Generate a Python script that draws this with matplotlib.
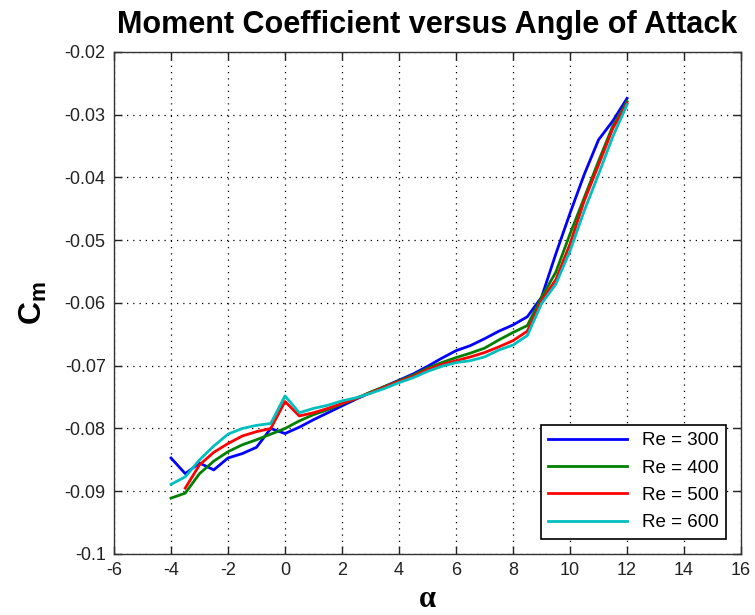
import numpy as np
import matplotlib
matplotlib.use('Agg')
from matplotlib import pyplot as plt

plt.rcParams['font.family'] = ['Liberation Sans', 'DejaVu Sans']
plt.rcParams['mathtext.fontset'] = 'custom'
plt.rcParams['mathtext.rm'] = 'Liberation Sans'
plt.rcParams['mathtext.bf'] = 'Liberation Sans:bold'
plt.rcParams['axes.unicode_minus'] = False

# angle of attack, deg
alpha = np.arange(-4, 12.5, 0.5)
alpha_500 = alpha[1:]

cm_300 = [-0.0847, -0.0872, -0.0855, -0.0866, -0.0847, -0.0840, -0.0830, -0.0800,
          -0.0808, -0.0798, -0.0786, -0.0775, -0.0764, -0.0753, -0.0743, -0.0733,
          -0.0723, -0.0713, -0.0701, -0.0688, -0.0676, -0.0668, -0.0657, -0.0645,
          -0.0635, -0.0622, -0.0591, -0.0522, -0.0457, -0.0395, -0.0340, -0.0310,
          -0.0274]
cm_400 = [-0.0911, -0.0903, -0.0872, -0.0852, -0.0837, -0.0826, -0.0818, -0.0809,
          -0.0800, -0.0788, -0.0778, -0.0770, -0.0761, -0.0752, -0.0742, -0.0733,
          -0.0724, -0.0715, -0.0704, -0.0695, -0.0687, -0.0680, -0.0672, -0.0659,
          -0.0647, -0.0636, -0.0591, -0.0551, -0.0490, -0.0432, -0.0374, -0.0318,
          -0.0279]
cm_500 = [-0.0895, -0.0858, -0.0838, -0.0824, -0.0812, -0.0805, -0.0800,
          -0.0757, -0.0780, -0.0775, -0.0768, -0.0760, -0.0752, -0.0743, -0.0734,
          -0.0725, -0.0717, -0.0706, -0.0698, -0.0692, -0.0686, -0.0679, -0.0670,
          -0.0660, -0.0645, -0.0596, -0.0563, -0.0506, -0.0437, -0.0380, -0.0322,
          -0.0282]
cm_600 = [-0.0889, -0.0877, -0.0850, -0.0828, -0.0809, -0.0800, -0.0795, -0.0792,
          -0.0748, -0.0775, -0.0768, -0.0763, -0.0756, -0.0751, -0.0744, -0.0736,
          -0.0727, -0.0719, -0.0709, -0.0701, -0.0695, -0.0692, -0.0686, -0.0675,
          -0.0667, -0.0652, -0.0601, -0.0570, -0.0517, -0.0453, -0.0395, -0.0335,
          -0.0284]

fig = plt.figure(figsize=(7.55, 6.15), dpi=100)
ax = fig.add_axes([0.151, 0.0992, 0.8305, 0.8163])

ax.plot(alpha, cm_300, color=(0, 0, 1), lw=2, label='Re = 300')
ax.plot(alpha, cm_400, color=(0, 0.5, 0), lw=2, label='Re = 400')
ax.plot(alpha_500, cm_500, color=(1, 0, 0), lw=2, label='Re = 500')
ax.plot(alpha, cm_600, color=(0, 0.75, 0.75), lw=2, label='Re = 600')

ax.set_xlim(-6, 16)
ax.set_ylim(-0.1, -0.02)
ax.set_xticks(np.arange(-6, 17, 2))
ax.set_yticks(np.arange(-0.1, -0.019, 0.01))
ax.set_yticklabels(['-0.1', '-0.09', '-0.08', '-0.07', '-0.06', '-0.05', '-0.04', '-0.03', '-0.02'])
ax.tick_params(direction='in', length=6, width=1, top=True, right=True,
               labelsize=13, pad=6, colors='#222222')
ax.grid(True, color='black', linestyle=(0, (1, 4)), linewidth=0.9)
for s in ax.spines.values():
    s.set_color('#333333')
    s.set_linewidth(1)

ax.set_title('Moment Coefficient versus Angle of Attack', fontsize=22,
             fontweight='bold', pad=13.5)
ax.set_xlabel('α', fontsize=22, fontweight='bold', family='Liberation Serif', labelpad=4)
ax.set_ylabel(r'$\mathbf{C_m}$', fontsize=23, labelpad=11)

leg = ax.legend(loc='lower right', fontsize=13.5, handlelength=4.2, fancybox=False,
                framealpha=1, edgecolor='black', borderaxespad=0.8, labelspacing=0.55)
leg.get_frame().set_linewidth(1.2)

plt.savefig('out.png', dpi=100)
